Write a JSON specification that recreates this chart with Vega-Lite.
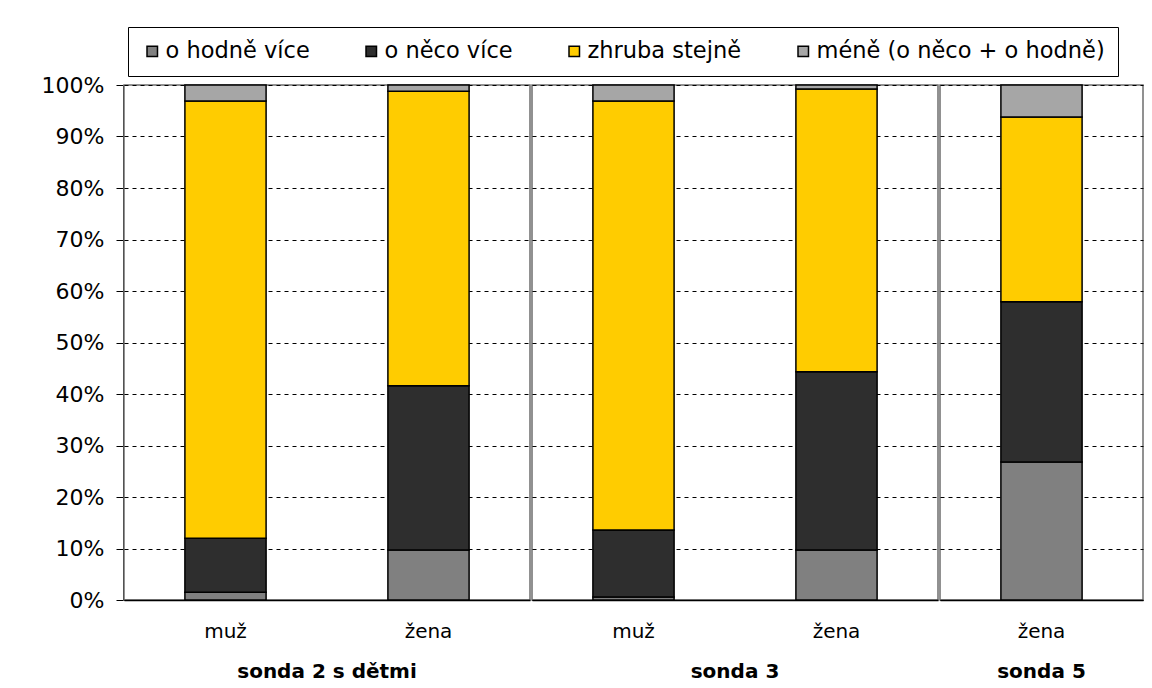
{
  "$schema": "https://vega.github.io/schema/vega-lite/v6.json",
  "padding": {"left": 41, "top": 26, "right": 8, "bottom": 5},
  "background": "white",
  "data": {"values": [
    {"sonda": "sonda 2 s dětmi", "pohlavi": "muž", "kat": "o hodně více", "i": 1, "v": 1.5},
    {"sonda": "sonda 2 s dětmi", "pohlavi": "muž", "kat": "o něco více", "i": 2, "v": 10.5},
    {"sonda": "sonda 2 s dětmi", "pohlavi": "muž", "kat": "zhruba stejně", "i": 3, "v": 84.9},
    {"sonda": "sonda 2 s dětmi", "pohlavi": "muž", "kat": "méně (o něco + o hodně)", "i": 4, "v": 3.1},
    {"sonda": "sonda 2 s dětmi", "pohlavi": "žena", "kat": "o hodně více", "i": 1, "v": 9.7},
    {"sonda": "sonda 2 s dětmi", "pohlavi": "žena", "kat": "o něco více", "i": 2, "v": 31.9},
    {"sonda": "sonda 2 s dětmi", "pohlavi": "žena", "kat": "zhruba stejně", "i": 3, "v": 57.2},
    {"sonda": "sonda 2 s dětmi", "pohlavi": "žena", "kat": "méně (o něco + o hodně)", "i": 4, "v": 1.2},
    {"sonda": "sonda 3", "pohlavi": "muž", "kat": "o hodně více", "i": 1, "v": 0.6},
    {"sonda": "sonda 3", "pohlavi": "muž", "kat": "o něco více", "i": 2, "v": 13.0},
    {"sonda": "sonda 3", "pohlavi": "muž", "kat": "zhruba stejně", "i": 3, "v": 83.3},
    {"sonda": "sonda 3", "pohlavi": "muž", "kat": "méně (o něco + o hodně)", "i": 4, "v": 3.1},
    {"sonda": "sonda 3", "pohlavi": "žena", "kat": "o hodně více", "i": 1, "v": 9.7},
    {"sonda": "sonda 3", "pohlavi": "žena", "kat": "o něco více", "i": 2, "v": 34.6},
    {"sonda": "sonda 3", "pohlavi": "žena", "kat": "zhruba stejně", "i": 3, "v": 54.9},
    {"sonda": "sonda 3", "pohlavi": "žena", "kat": "méně (o něco + o hodně)", "i": 4, "v": 0.8},
    {"sonda": "sonda 5", "pohlavi": "žena", "kat": "o hodně více", "i": 1, "v": 26.8},
    {"sonda": "sonda 5", "pohlavi": "žena", "kat": "o něco více", "i": 2, "v": 31.1},
    {"sonda": "sonda 5", "pohlavi": "žena", "kat": "zhruba stejně", "i": 3, "v": 35.9},
    {"sonda": "sonda 5", "pohlavi": "žena", "kat": "méně (o něco + o hodně)", "i": 4, "v": 6.2}
  ]},
  "facet": {
    "column": {
      "field": "sonda",
      "type": "nominal",
      "sort": ["sonda 2 s dětmi", "sonda 3", "sonda 5"],
      "header": {
        "title": null,
        "labelOrient": "bottom",
        "labelFont": "DejaVu Sans",
        "labelFontSize": 20,
        "labelFontWeight": "bold",
        "labelColor": "black",
        "labelPadding": 20
      }
    }
  },
  "spacing": 0,
  "resolve": {"scale": {"x": "independent"}},
  "spec": {
    "width": {"step": 203},
    "height": 515,
    "mark": {"type": "bar", "stroke": "black", "strokeWidth": 1.5},
    "encoding": {
      "x": {
        "field": "pohlavi",
        "type": "nominal",
        "sort": ["muž", "žena"],
        "scale": {"paddingInner": 0.6, "paddingOuter": 0.3},
        "axis": {
          "title": null,
          "labelAngle": 0,
          "ticks": false,
          "labelPadding": 21,
          "labelFont": "DejaVu Sans",
          "labelFontSize": 20,
          "labelColor": "black",
          "domainColor": "black",
          "domainWidth": 1.5
        }
      },
      "y": {
        "field": "v",
        "type": "quantitative",
        "stack": "normalize",
        "scale": {"domain": [0, 1]},
        "axis": {
          "title": null,
          "format": ".0%",
          "values": [0, 0.1, 0.2, 0.3, 0.4, 0.5, 0.6, 0.7, 0.8, 0.9, 1],
          "labelFont": "DejaVu Sans",
          "labelFontSize": 22,
          "labelColor": "black",
          "labelPadding": 12,
          "tickColor": "black",
          "tickSize": 7,
          "domainColor": "black",
          "gridColor": "black",
          "gridDash": [4, 4],
          "gridWidth": 1
        }
      },
      "color": {
        "field": "kat",
        "type": "nominal",
        "scale": {
          "domain": ["o hodně více", "o něco více", "zhruba stejně", "méně (o něco + o hodně)"],
          "range": ["#808080", "#2e2e2e", "#ffcc00", "#a6a6a6"]
        },
        "legend": {
          "title": null,
          "orient": "none",
          "legendX": 4,
          "legendY": -58,
          "direction": "horizontal",
          "columns": 4,
          "strokeColor": "black",
          "padding": 13,
          "symbolType": "square",
          "symbolSize": 110,
          "symbolStrokeColor": "black",
          "symbolStrokeWidth": 1.5,
          "symbolOpacity": 1,
          "labelFont": "DejaVu Sans",
          "labelFontSize": 22.5,
          "labelColor": "black",
          "labelOffset": 2,
          "columnPadding": 50,
          "labelLimit": 400
        }
      },
      "order": {"field": "i", "type": "quantitative"}
    }
  },
  "config": {
    "view": {"stroke": "#6e6e6e", "strokeWidth": 1.5},
    "axis": {"labelFont": "DejaVu Sans"}
  }
}
